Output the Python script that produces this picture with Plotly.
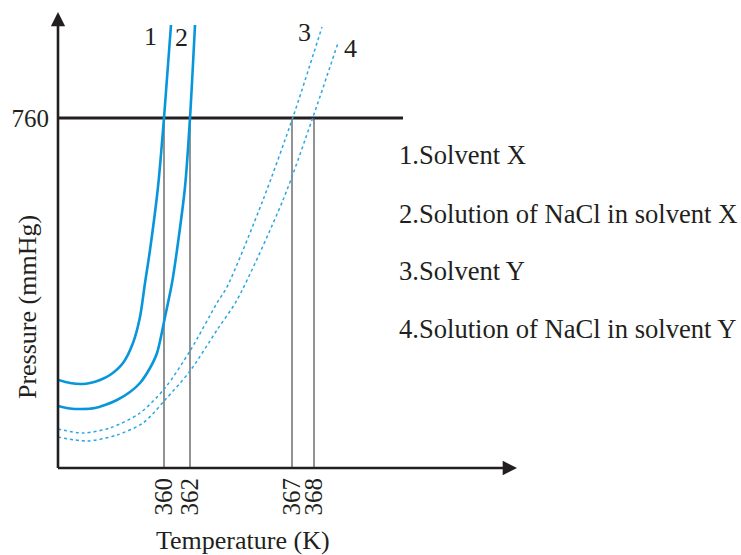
import plotly.graph_objects as go

# Schematic coordinates (arbitrary units along each axis)
temp_tick_pos = [164, 190, 292, 314]
temp_tick_labels = ["360", "362", "367", "368"]
p760_pos = 350
p760_label = "760"

c1_x = [58, 70, 82, 90, 100, 110, 123, 133, 140, 145, 150, 158, 164, 171]
c1_y = [88, 85, 84, 85, 88, 93, 105, 125, 151, 185, 218, 281, 350, 443]

c2_x = [58, 70, 82, 95, 105, 117, 130, 140, 150, 157, 165, 172, 177, 185, 190, 195]
c2_y = [62, 59.5, 59, 60, 63, 68, 76, 85, 100, 115, 151, 185, 218, 281, 350, 443]

c3_x = [58, 83, 110, 140, 165, 190, 217, 227, 263, 293, 322]
c3_y = [39, 35, 40, 55, 80, 117, 165, 181, 268, 351, 441]

c4_x = [58, 87, 117, 143, 165, 190, 217, 237, 283, 313, 338]
c4_y = [31, 27, 33, 45, 68, 97, 138, 168, 268, 351, 425]

curve_labels = ["1", "2", "3", "4"]
legend_lines = ["1.Solvent X", "2.Solution of NaCl in solvent X",
                "3.Solvent Y", "4.Solution of NaCl in solvent Y"]

solid_col = "#0796dc"
dot_col = "#2aa6e2"
ink = "#231f20"
FONT = "'Liberation Serif', 'Times New Roman', 'DejaVu Serif', serif"

fig = go.Figure()

# reference lines
fig.add_trace(go.Scatter(x=[58, 403], y=[p760_pos, p760_pos], mode="lines",
                         line=dict(color=ink, width=3), hoverinfo="skip", showlegend=False,
                         cliponaxis=False))
for tx in temp_tick_pos:
    fig.add_trace(go.Scatter(x=[tx, tx], y=[0, p760_pos], mode="lines",
                             line=dict(color="#4a4a4a", width=1.2), hoverinfo="skip", showlegend=False))

for xs, ys, col, w, dash in [(c1_x, c1_y, solid_col, 2.6, "solid"),
                             (c2_x, c2_y, solid_col, 2.6, "solid"),
                             (c3_x, c3_y, dot_col, 1.5, "dot"),
                             (c4_x, c4_y, dot_col, 1.5, "dot")]:
    fig.add_trace(go.Scatter(x=xs, y=ys, mode="lines",
                             line=dict(color=col, width=w, dash=dash, shape="spline", smoothing=0.8),
                             showlegend=False, cliponaxis=False))

# axes with arrows
fig.add_annotation(x=58, y=456, ax=58, ay=-1.5, xref="x", yref="y", axref="x", ayref="y",
                   showarrow=True, arrowhead=2, arrowsize=1.1, arrowwidth=2.6, arrowcolor=ink, text="")
fig.add_annotation(x=517, y=0, ax=56.5, ay=0, xref="x", yref="y", axref="x", ayref="y",
                   showarrow=True, arrowhead=2, arrowsize=1.1, arrowwidth=2.6, arrowcolor=ink, text="")

# curve numbers
for lab, (lx, ly) in zip(curve_labels, [(150, 432), (181, 431), (304, 436), (350, 420)]):
    fig.add_annotation(x=lx, y=ly, text=lab, showarrow=False,
                       font=dict(family=FONT, size=26, color=ink))

# legend texts
for txt, ly in zip(legend_lines, [313, 254, 197, 139]):
    fig.add_annotation(x=397, y=ly, text=txt, showarrow=False, xanchor="left", yanchor="middle",
                       font=dict(family=FONT, size=26.6, color=ink))

fig.add_annotation(x=0.403, y=-0.160, xref="paper", yref="paper", text="Temperature (K)",
                   xanchor="center", yanchor="middle",
                   showarrow=False, font=dict(family=FONT, size=26, color=ink))
fig.add_annotation(x=-0.0675, y=0.353, xref="paper", yref="paper", text="Pressure (mmHg)",
                   xanchor="center", yanchor="middle",
                   showarrow=False, textangle=-90, font=dict(family=FONT, size=26, color=ink))

fig.update_layout(
    width=741, height=555,
    margin=dict(l=58, r=224, t=12, b=87),
    paper_bgcolor="white", plot_bgcolor="white",
    xaxis=dict(range=[58, 517], showgrid=False, zeroline=False, showline=False, automargin=False,
               tickmode="array", tickvals=temp_tick_pos, ticktext=temp_tick_labels,
               tickangle=-90, ticks="", ticklabelstandoff=4,
               tickfont=dict(family=FONT, size=25, color=ink)),
    yaxis=dict(range=[0, 456], showgrid=False, zeroline=False, showline=False, automargin=False,
               tickmode="array", tickvals=[p760_pos], ticktext=[p760_label],
               ticks="", ticklabelstandoff=8,
               tickfont=dict(family=FONT, size=25, color=ink)),
)

fig.write_html("out.html", config={"displayModeBar": False},
               post_script="document.body.style.margin='0';document.body.style.overflow='hidden';")
